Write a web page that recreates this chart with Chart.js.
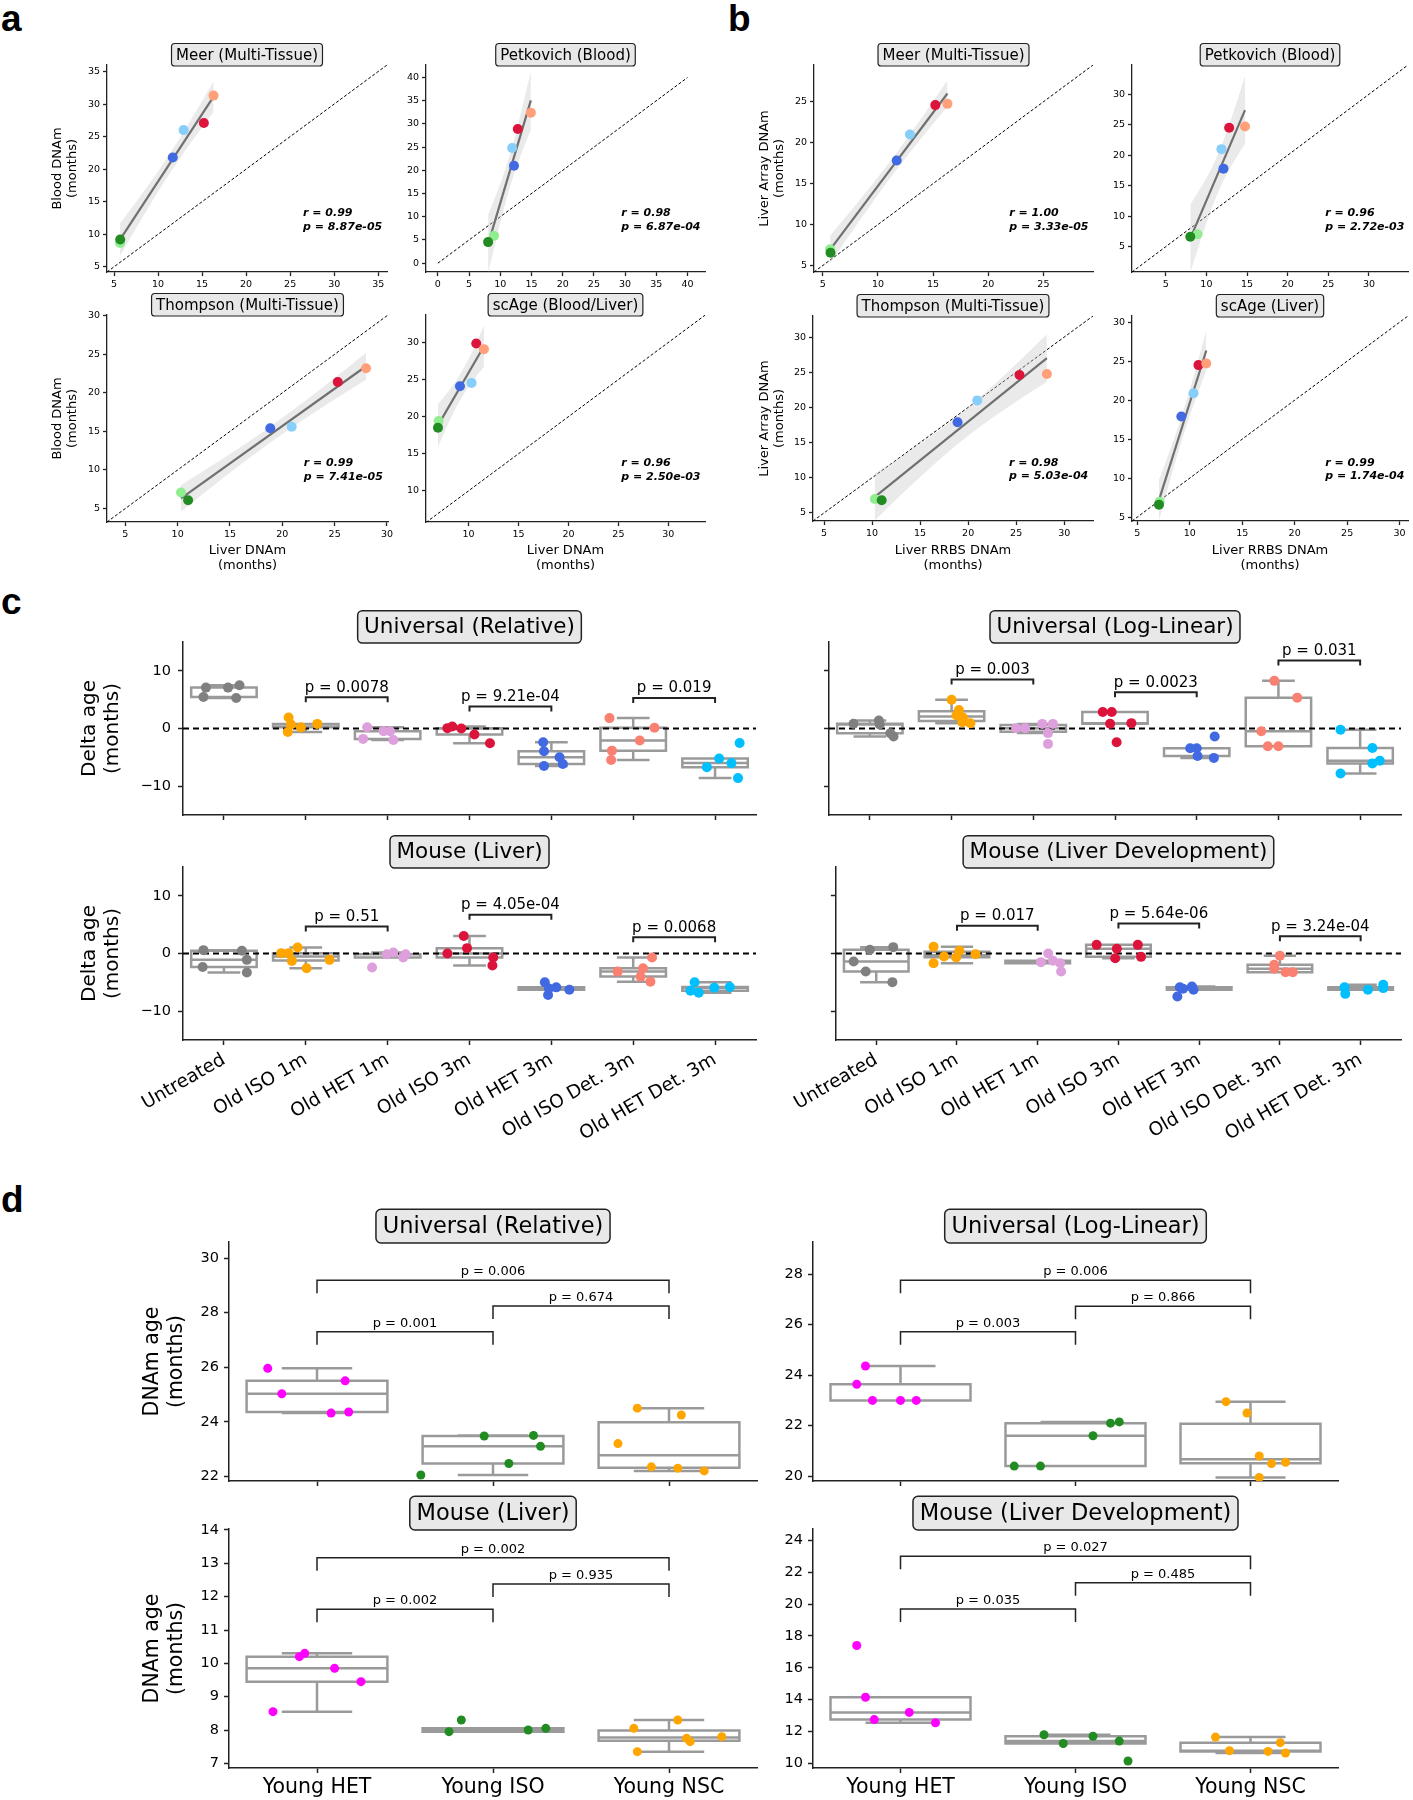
<!DOCTYPE html>
<html>
<head>
<meta charset="utf-8">
<script src="https://cdn.jsdelivr.net/npm/chart.js@4.4.1/dist/chart.umd.min.js"></script>
<style>
html, body { margin: 0; padding: 0; background: #fff; overflow: hidden; }
#fig { position: relative; width: 1413px; height: 1800px; overflow: hidden; }
#fig canvas { position: absolute; }
.lbl { position: absolute; font: bold 37px 'Liberation Sans', Arial, sans-serif; line-height: 1; }
</style>
</head>
<body>
<div id="fig">
  <div class="lbl" style="left:1px;top:0px">a</div>
  <div class="lbl" style="left:728px;top:0px">b</div>
  <div class="lbl" style="left:1px;top:583px">c</div>
  <div class="lbl" style="left:1px;top:1181px">d</div>
</div>
<script>
// ---- a / b : clock estimates per sample (months)
const sampleColors = ['#90ee90', '#228b22', '#4169e1', '#87cefa', '#dc143c', '#ffa07a'];

const aMeerX = [5.68, 5.70, 11.67, 12.90, 15.20, 16.30];
const aMeerY = [8.67, 9.20, 21.80, 26.00, 27.10, 31.30];
const aPetkX = [9.00, 8.05, 12.20, 11.90, 12.80, 14.90];
const aPetkY = [5.90, 4.54, 21.00, 24.80, 28.90, 32.40];
const aThomX = [10.32, 11.00, 18.85, 20.90, 25.30, 28.00];
const aThomY = [7.08, 6.08, 15.40, 15.60, 21.40, 23.20];
const aScX = [7.00, 6.94, 9.14, 10.30, 10.77, 11.54];
const aScY = [19.40, 18.50, 24.10, 24.55, 29.86, 29.10];

const bMeerX = [5.66, 5.70, 11.70, 12.90, 15.20, 16.30];
const bMeerY = [6.97, 6.55, 17.83, 21.00, 24.60, 24.75];
const bPetkX = [8.90, 8.02, 12.10, 11.85, 12.80, 14.75];
const bPetkY = [7.03, 6.64, 17.80, 21.00, 24.50, 24.70];
const bThomX = [10.29, 11.00, 18.90, 20.95, 25.35, 28.20];
const bThomY = [6.97, 6.80, 17.90, 21.00, 24.60, 24.75];
const bScX = [7.13, 7.07, 9.20, 10.36, 10.83, 11.58];
const bScY = [6.97, 6.60, 17.90, 20.90, 24.50, 24.70];

const aStats = [['0.99', '8.87e-05'], ['0.98', '6.87e-04'], ['0.99', '7.41e-05'], ['0.96', '2.50e-03']];
const bStats = [['1.00', '3.33e-05'], ['0.96', '2.72e-03'], ['0.98', '5.03e-04'], ['0.99', '1.74e-04']];

const ticks5to35 = [5, 10, 15, 20, 25, 30, 35];
const ticks0to40 = [0, 5, 10, 15, 20, 25, 30, 35, 40];
const ticks5to30 = [5, 10, 15, 20, 25, 30];
const ticks10to30 = [10, 15, 20, 25, 30];
const ticks5to25 = [5, 10, 15, 20, 25];

// ---- c : delta age per treatment group
const cGroups = ['Untreated', 'Old ISO 1m', 'Old HET 1m', 'Old ISO 3m', 'Old HET 3m', 'Old ISO Det. 3m', 'Old HET Det. 3m'];
const cColors = ['#808080', '#ffa500', '#dda0dd', '#dc143c', '#4169e1', '#fa8072', '#00bfff'];
const cYTicks = [-10, 0, 10];
const cPairs = [[1, 2], [3, 4], [5, 6]];

const cRelVals = [[5.47, 7.09, 7.09, 7.5, 5.29], [1.9, 0.7, -0.6, 0.2, 0.8], [-1.8, 0.23, -0.47, -0.47, -1.98],
  [0.06, 0.35, 0.0, -1.05, -2.56], [-2.38, -3.95, -6.5, -5.0, -6.16], [1.8, -3.84, -5.47, -2.09, 0.12], [-6.7, -5.2, -2.5, -8.6, -6.0]];
const cRelJit = [[-0.25, -0.22, 0.05, 0.19, 0.15], [-0.21, -0.18, -0.22, -0.06, 0.14], [-0.30, -0.25, -0.05, 0.03, 0.07],
  [-0.27, -0.21, -0.10, 0.06, 0.25], [-0.10, -0.09, -0.09, 0.10, 0.14], [-0.29, -0.26, -0.27, 0.08, 0.26], [-0.10, 0.05, 0.30, 0.28, 0.20]];
const cRelP = ['0.0078', '9.21e-04', '0.019'];
const cRelPy = [5.4, 3.8, 5.3];

const cLogVals = [[0.81, 1.4, 0.7, -0.81, -1.4], [5.0, 3.2, 2.3, 1.9, 1.1, 0.9], [0.06, 0.06, 0.8, 0.8, -0.8, -2.67],
  [2.85, 2.85, 0.81, 0.93, -2.38], [-1.4, -3.43, -3.43, -4.77, -5.1], [8.26, 5.35, -0.47, -3.08, -3.08], [-0.23, -3.37, -6.05, -5.58, -7.79]];
const cLogJit = [[-0.20, 0.11, 0.12, 0.25, 0.29], [0.0, 0.09, 0.06, 0.14, 0.13, 0.23], [-0.21, -0.10, 0.11, 0.24, 0.18, 0.18],
  [-0.15, -0.04, -0.06, 0.20, 0.02], [0.22, -0.08, 0.0, 0.01, 0.21], [-0.05, 0.23, -0.21, -0.13, 0.0], [-0.24, 0.15, 0.15, 0.24, -0.24]];
const cLogP = ['0.003', '0.0023', '0.031'];
const cLogPy = [8.5, 6.3, 11.8];

const cLivVals = [[0.58, -2.33, 0.47, -1.1, -3.31], [0.06, 0.06, 1.05, -1.28, -2.56, -1.1], [-2.44, -0.12, 0.17, -0.7, -0.12],
  [0.0, 3.02, 0.93, -0.7, -2.09], [-5.0, -7.2, -5.87, -6.28, -6.05], [-3.14, -2.56, -4.01, -4.88, -0.7], [-5.0, -6.45, -6.8, -5.93, -5.8]];
const cLivJit = [[-0.25, -0.26, 0.22, 0.28, 0.28], [-0.30, -0.21, -0.10, -0.17, 0.01, 0.29], [-0.19, -0.01, 0.07, 0.19, 0.22],
  [-0.27, -0.07, -0.03, 0.29, 0.28], [-0.08, -0.04, 0.06, 0.22, -0.03], [-0.19, 0.12, 0.09, 0.21, 0.23], [-0.25, -0.30, -0.20, -0.01, 0.18]];
const cLivP = ['0.51', '4.05e-04', '0.0068'];
const cLivPy = [4.7, 6.7, 2.8];

const cDevVals = [[-1.39, -3.12, 0.64, 1.1, -4.97], [1.16, -1.68, -0.52, -0.69, 0.46, -0.12], [-1.5, 0.0, -1.27, -1.68, -3.12],
  [1.5, 0.81, -0.81, 1.5, -0.58], [-7.46, -5.84, -5.72, -6.3, -6.1], [-0.4, -1.97, -2.66, -3.24, -3.24], [-5.84, -7.0, -6.3, -5.43, -6.0]];
const cDevJit = [[-0.28, -0.13, -0.08, 0.21, 0.20], [-0.29, -0.29, -0.16, -0.01, 0.03, 0.23], [0.04, 0.13, 0.19, 0.28, 0.29],
  [-0.27, -0.02, -0.04, 0.24, 0.28], [-0.27, -0.24, -0.09, -0.07, -0.20], [0.0, -0.07, -0.07, 0.07, 0.16], [-0.20, -0.19, 0.09, 0.28, 0.28]];
const cDevP = ['0.017', '5.64e-06', '3.24e-04'];
const cDevPy = [4.8, 5.2, 3.0];

// ---- d : DNAm age of young recipients
const dGroups = ['Young HET', 'Young ISO', 'Young NSC'];
const dColors = ['#ff00ff', '#228b22', '#ffa500'];
const dPairs = [[0, 2], [1, 2], [0, 1]];

const dRelVals = [[25.96, 25.03, 24.32, 24.36, 25.5], [22.05, 23.48, 22.47, 23.5, 23.1], [24.5, 24.25, 23.2, 22.35, 22.3, 22.2]];
const dRelJit = [[-0.28, -0.20, 0.08, 0.18, 0.16], [-0.41, -0.05, 0.09, 0.23, 0.27], [-0.18, 0.07, -0.29, -0.10, 0.05, 0.20]];
const dRelP = ['0.006', '0.674', '0.001'];
const dRelPy = [29.19, 28.24, 27.3];
const dRelTicks = [22, 24, 26, 28, 30];

const dLogVals = [[24.36, 23.64, 23.0, 23.0, 23.0], [20.4, 20.4, 21.6, 22.1, 22.15], [22.95, 22.5, 20.8, 20.5, 20.55, 19.95]];
const dLogJit = [[-0.20, -0.25, -0.16, 0.0, 0.09], [-0.35, -0.20, 0.10, 0.20, 0.25], [-0.14, -0.02, 0.05, 0.12, 0.20, 0.05]];
const dLogP = ['0.006', '0.866', '0.003'];
const dLogPy = [27.76, 26.73, 25.72];
const dLogTicks = [20, 22, 24, 26, 28];

const dLivVals = [[10.2, 10.3, 9.85, 9.45, 8.55], [7.95, 8.3, 8.0, 8.05, 6.65], [8.3, 8.05, 7.75, 7.65, 7.35, 7.8]];
const dLivJit = [[-0.10, -0.07, 0.10, 0.25, -0.25], [-0.25, -0.18, 0.20, 0.30, 0.0], [0.05, -0.20, 0.10, 0.12, -0.18, 0.30]];
const dLivP = ['0.002', '0.935', '0.002'];
const dLivPy = [13.17, 12.38, 11.62];
const dLivTicks = [7, 8, 9, 10, 11, 12, 13, 14];

const dDevVals = [[17.4, 14.15, 13.2, 12.75, 12.55], [11.8, 11.25, 11.4, 10.15, 11.7], [11.65, 10.8, 10.75, 11.3, 10.65]];
const dDevJit = [[-0.25, -0.20, 0.05, -0.15, 0.20], [-0.18, -0.07, 0.25, 0.30, 0.10], [-0.20, -0.12, 0.10, 0.17, 0.20]];
const dDevP = ['0.027', '0.485', '0.035'];
const dDevPy = [23.0, 21.33, 19.69];
const dDevTicks = [10, 12, 14, 16, 18, 20, 22, 24];

const FONT = "'DejaVu Sans', sans-serif";
const T95 = 2.776; // t(0.975, df = 4)
Chart.defaults.font.family = FONT;
const fig = document.getElementById('fig');
const fmt = v => (v < 0 ? '\u2212' : '') + Math.abs(v);

function makeCanvas(area, m) {
  const [L, T, R, B] = area.map(Math.round);
  const c = document.createElement('canvas');
  const left = L - m.l, top = T - m.t, w = R - L + m.l + m.r, h = B - T + m.t + m.b;
  c.width = w; c.height = h;
  Object.assign(c.style, {left: left + 'px', top: top + 'px', width: w + 'px', height: h + 'px'});
  fig.appendChild(c);
  return {c, left, top, w, h};
}

function axis(o) {
  let title = {display: false};
  if (o.title) {
    const lh = o.tsize * o.tlh;
    const pad = o.horiz
      ? {top: 0, bottom: o.cv.h - (o.tpos - o.cv.top) - lh * (o.title.length - 1) - lh / 2}
      : {top: (o.tpos - o.cv.left) - lh / 2, bottom: 0};
    title = {display: true, text: o.title, color: '#000', font: {family: FONT, size: o.tsize, lineHeight: o.tlh}, padding: pad};
  }
  return {
    type: 'linear', min: o.min, max: o.max,
    afterBuildTicks: s => { s.ticks = o.ticks.map(v => ({value: v})); },
    afterFit: s => { if (o.horiz) s.height = o.size; else s.width = o.size; },
    ticks: {autoSkip: false, minRotation: o.rot || 0, maxRotation: o.rot || 0, padding: o.pad, color: '#000',
      font: {family: FONT, size: o.fs}, callback: o.cb || fmt},
    grid: {display: true, drawOnChartArea: false, drawTicks: true, tickLength: o.tl, tickWidth: o.bw, tickColor: '#222'},
    border: {display: true, color: '#222', width: o.bw},
    title
  };
}

// boxed subplot title sitting on top of the plot area
const titleBox = {
  id: 'titleBox',
  afterDraw(chart, args, o) {
    const {ctx, chartArea: a} = chart;
    ctx.save();
    ctx.font = o.size + 'px ' + FONT;
    const w = ctx.measureText(o.text).width + 0.6 * o.size, h = 1.5 * o.size;
    const cx = (a.left + a.right) / 2, y = a.top - h + 1;
    ctx.beginPath();
    ctx.roundRect(cx - w / 2, y, w, h, 0.22 * o.size);
    ctx.fillStyle = '#e8e8e8'; ctx.fill();
    ctx.lineWidth = o.lw; ctx.strokeStyle = '#222'; ctx.stroke();
    ctx.fillStyle = '#000'; ctx.textAlign = 'center'; ctx.textBaseline = 'middle';
    ctx.fillText(o.text, cx, y + h / 2 + 1);
    ctx.restore();
  }
};

// r / p annotation
const notes = {
  id: 'notes',
  afterDraw(chart, args, o) {
    const {ctx, chartArea: a} = chart;
    ctx.save();
    ctx.font = 'italic bold ' + o.size + 'px ' + FONT;
    ctx.fillStyle = '#000'; ctx.textAlign = 'left'; ctx.textBaseline = 'middle';
    const x = a.left + 0.70 * (a.right - a.left), hgt = a.bottom - a.top;
    o.lines.forEach((t, i) => ctx.fillText(t, x, a.bottom - (0.283 - 0.066 * i) * hgt));
    ctx.restore();
  }
};

function quant(s, q) {
  const p = (s.length - 1) * q, lo = Math.floor(p), hi = Math.ceil(p);
  return s[lo] + (s[hi] - s[lo]) * (p - lo);
}
function boxStats(vals) {
  const s = vals.slice().sort((a, b) => a - b);
  const q1 = quant(s, 0.25), med = quant(s, 0.5), q3 = quant(s, 0.75), iqr = q3 - q1;
  const lo = Math.min(...s.filter(v => v >= q1 - 1.5 * iqr));
  const hi = Math.max(...s.filter(v => v <= q3 + 1.5 * iqr));
  return {q1, med, q3, lo, hi};
}

const boxPlugin = {
  id: 'boxes',
  beforeDatasetsDraw(chart, args, o) {
    const {ctx, scales: {x, y}} = chart;
    ctx.save();
    ctx.strokeStyle = o.color; ctx.lineWidth = o.lw;
    o.groups.forEach((vals, i) => {
      const b = boxStats(vals);
      const x0 = x.getPixelForValue(i - 0.4), x1 = x.getPixelForValue(i + 0.4), xc = x.getPixelForValue(i);
      const c0 = x.getPixelForValue(i - 0.2), c1 = x.getPixelForValue(i + 0.2);
      const yq1 = y.getPixelForValue(b.q1), yq3 = y.getPixelForValue(b.q3);
      ctx.beginPath();
      ctx.rect(x0, yq3, x1 - x0, yq1 - yq3);
      ctx.moveTo(x0, y.getPixelForValue(b.med)); ctx.lineTo(x1, y.getPixelForValue(b.med));
      ctx.moveTo(xc, yq3); ctx.lineTo(xc, y.getPixelForValue(b.hi));
      ctx.moveTo(xc, yq1); ctx.lineTo(xc, y.getPixelForValue(b.lo));
      ctx.moveTo(c0, y.getPixelForValue(b.hi)); ctx.lineTo(c1, y.getPixelForValue(b.hi));
      ctx.moveTo(c0, y.getPixelForValue(b.lo)); ctx.lineTo(c1, y.getPixelForValue(b.lo));
      ctx.stroke();
    });
    ctx.restore();
  }
};

const bracketPlugin = {
  id: 'brackets',
  afterDatasetsDraw(chart, args, o) {
    const {ctx, scales: {x, y}} = chart;
    ctx.save();
    ctx.strokeStyle = '#222'; ctx.lineWidth = o.lw; ctx.fillStyle = '#000';
    ctx.font = o.size + 'px ' + FONT; ctx.textAlign = 'center'; ctx.textBaseline = 'bottom';
    o.pairs.forEach((pr, k) => {
      const xa = x.getPixelForValue(pr[0]), xb = x.getPixelForValue(pr[1]), yy = y.getPixelForValue(o.ys[k]);
      ctx.beginPath();
      ctx.moveTo(xa, yy + o.leg); ctx.lineTo(xa, yy); ctx.lineTo(xb, yy); ctx.lineTo(xb, yy + o.leg);
      ctx.stroke();
      ctx.fillText('p = ' + o.labels[k], (xa + xb) / 2, yy - 2);
    });
    ctx.restore();
  }
};

function regress(xs, ys) {
  const n = xs.length;
  const mx = xs.reduce((a, b) => a + b, 0) / n, my = ys.reduce((a, b) => a + b, 0) / n;
  let sxx = 0, sxy = 0, sse = 0;
  xs.forEach((v, i) => { sxx += (v - mx) ** 2; sxy += (v - mx) * (ys[i] - my); });
  const k = sxy / sxx, b0 = my - k * mx;
  xs.forEach((v, i) => { sse += (ys[i] - b0 - k * v) ** 2; });
  const s = Math.sqrt(sse / (n - 2));
  return {at: v => b0 + k * v, ci: v => T95 * s * Math.sqrt(1 / n + (v - mx) ** 2 / sxx)};
}

function scatterPanel(p) {
  const m = {l: 100, t: 30, r: p.area[2] > 1400 ? 1 : 10, b: p.xTitle ? 62 : 24};
  const cv = makeCanvas(p.area, m);
  const f = regress(p.xs, p.ys);
  const x0 = Math.min(...p.xs), x1 = Math.max(...p.xs);
  const steps = [...Array(31).keys()].map(i => x0 + (x1 - x0) * i / 30);
  const datasets = [
    {type: 'scatter', data: p.xs.map((v, i) => ({x: v, y: p.ys[i]})), pointBackgroundColor: sampleColors,
      pointBorderWidth: 0, pointRadius: 5},
    {type: 'line', data: [{x: x0, y: f.at(x0)}, {x: x1, y: f.at(x1)}], borderColor: '#707070', borderWidth: 2.2, pointRadius: 0, fill: false},
    {type: 'line', data: steps.map(v => ({x: v, y: f.at(v) + f.ci(v)})), borderWidth: 0, pointRadius: 0,
      fill: '+1', backgroundColor: 'rgba(200,200,200,0.38)'},
    {type: 'line', data: steps.map(v => ({x: v, y: f.at(v) - f.ci(v)})), borderWidth: 0, pointRadius: 0, fill: false},
    {type: 'line', data: [{x: p.id[0], y: p.id[0]}, {x: p.id[1], y: p.id[1]}], borderColor: '#000', borderWidth: 1,
      borderDash: [3, 2], pointRadius: 0, fill: false}
  ];
  new Chart(cv.c, {
    type: 'scatter',
    data: {datasets},
    options: {
      responsive: false, animation: false, events: [],
      layout: {padding: {left: 0, top: m.t, right: m.r, bottom: 0}},
      plugins: {
        legend: {display: false}, tooltip: {enabled: false},
        titleBox: {text: p.title, size: 15, lw: 1.2},
        notes: {lines: ['r = ' + p.st[0], 'p = ' + p.st[1]], size: 11}
      },
      scales: {
        x: axis({horiz: true, min: p.lim[0], max: p.lim[1], ticks: p.xt, size: m.b, pad: 3, fs: 9.5, tl: 4, bw: 1.3,
          title: p.xTitle, tpos: 551, tsize: 13, tlh: 1.13, cv}),
        y: axis({horiz: false, min: p.lim[2], max: p.lim[3], ticks: p.yt, size: m.l, pad: 3, fs: 9.5, tl: 4, bw: 1.3,
          title: p.yTitle, tpos: p.yTitlePos, tsize: 13, tlh: 1.13, cv})
      }
    },
    plugins: [titleBox, notes]
  });
}

function boxPanel(p, S) {
  const cv = makeCanvas(p.area, p.m);
  const pts = [], cols = [];
  p.vals.forEach((g, i) => g.forEach((v, j) => { pts.push({x: i + p.jit[i][j], y: v}); cols.push(p.colors[i]); }));
  const n = p.cats.length;
  const datasets = [{type: 'scatter', data: pts, pointBackgroundColor: cols, pointBorderWidth: 0, pointRadius: S.ptR}];
  if (S.zero) {
    datasets.push({type: 'line', data: [{x: -0.5, y: 0}, {x: n - 0.5, y: 0}], borderColor: '#000', borderWidth: 1.8,
      borderDash: [6, 4], pointRadius: 0, fill: false});
  }
  new Chart(cv.c, {
    type: 'scatter',
    data: {datasets},
    options: {
      responsive: false, animation: false, events: [],
      layout: {padding: {left: 0, top: p.m.t, right: p.m.r, bottom: 0}},
      plugins: {
        legend: {display: false}, tooltip: {enabled: false},
        titleBox: {text: p.title, size: S.fsTitle, lw: 1.5},
        boxes: {groups: p.vals, color: '#9a9a9a', lw: S.boxLw},
        brackets: {pairs: p.pairs, ys: p.py, labels: p.pl, leg: S.leg, size: S.fsP, lw: S.lw}
      },
      scales: {
        x: axis({horiz: true, min: -0.5, max: n - 0.5, ticks: p.cats.map((c, i) => i), size: p.m.b, rot: S.rot,
          pad: S.padX, fs: S.fsX, tl: S.tl, bw: S.bw, cb: v => (p.showX ? p.cats[v] : '')}),
        y: axis({horiz: false, min: p.lim[0], max: p.lim[1], ticks: p.yt, size: p.m.l, pad: S.padY, fs: S.fsY,
          tl: S.tl, bw: S.bw, cb: p.showY ? fmt : () => '',
          title: p.yTitle, tpos: p.yTitlePos, tsize: S.yTitleSize, tlh: 1.15, cv})
      }
    },
    plugins: [boxPlugin, bracketPlugin, titleBox]
  });
}

// ---- panel a
scatterPanel({area: [107, 65, 387, 272], xs: aMeerX, ys: aMeerY, lim: [4.2, 36, 4.2, 36], id: [4.2, 36],
  xt: ticks5to35, yt: ticks5to35, title: 'Meer (Multi-Tissue)', st: aStats[0],
  yTitle: ['Blood DNAm', '(months)'], yTitlePos: 58});
scatterPanel({area: [426, 65, 705, 272], xs: aPetkX, ys: aPetkY, lim: [-1.9, 42.8, -1.9, 42.7], id: [0, 40],
  xt: ticks0to40, yt: ticks0to40, title: 'Petkovich (Blood)', st: aStats[1]});
scatterPanel({area: [107, 315, 388, 522], xs: aThomX, ys: aThomY, lim: [3.25, 30.1, 3.25, 30.1], id: [3.25, 30.1],
  xt: ticks5to30, yt: ticks5to30, title: 'Thompson (Multi-Tissue)', st: aStats[2],
  xTitle: ['Liver DNAm', '(months)'], yTitle: ['Blood DNAm', '(months)'], yTitlePos: 58});
scatterPanel({area: [426, 315, 705, 522], xs: aScX, ys: aScY, lim: [5.74, 33.67, 5.8, 33.7], id: [5.74, 33.7],
  xt: ticks10to30, yt: ticks10to30, title: 'scAge (Blood/Liver)', st: aStats[3], xTitle: ['Liver DNAm', '(months)']});

// ---- panel b
scatterPanel({area: [814, 65, 1093, 272], xs: bMeerX, ys: bMeerY, lim: [4.2, 29.5, 4.2, 29.5], id: [4.2, 29.5],
  xt: ticks5to25, yt: ticks5to25, title: 'Meer (Multi-Tissue)', st: bStats[0],
  yTitle: ['Liver Array DNAm', '(months)'], yTitlePos: 765});
scatterPanel({area: [1132, 65, 1412, 272], xs: bPetkX, ys: bPetkY, lim: [0.85, 34.8, 0.85, 34.8], id: [0.85, 34.8],
  xt: ticks5to30, yt: ticks5to30, title: 'Petkovich (Blood)', st: bStats[1]});
scatterPanel({area: [813, 316, 1093, 521], xs: bThomX, ys: bThomY, lim: [3.85, 33, 3.85, 33], id: [3.85, 33],
  xt: ticks5to30, yt: ticks5to30, title: 'Thompson (Multi-Tissue)', st: bStats[2],
  xTitle: ['Liver RRBS DNAm', '(months)'], yTitle: ['Liver Array DNAm', '(months)'], yTitlePos: 765});
scatterPanel({area: [1132, 316, 1412, 521], xs: bScX, ys: bScY, lim: [4.5, 30.8, 4.5, 30.8], id: [4.5, 30.8],
  xt: ticks5to30, yt: ticks5to30, title: 'scAge (Liver)', st: bStats[3], xTitle: ['Liver RRBS DNAm', '(months)']});

// ---- panel c
const cStyle = {ptR: 5, fsY: 14.5, fsX: 18.5, rot: 30, tl: 5, padX: 4, padY: 7, bw: 1.5, fsTitle: 21.5, fsP: 15,
  leg: 5, lw: 2, boxLw: 2.5, zero: true, yTitleSize: 20};
const cBase = {cats: cGroups, colors: cColors, yt: cYTicks, pairs: cPairs, lim: [-15, 15]};
boxPanel(Object.assign({}, cBase, {area: [183, 641.5, 755.5, 815], m: {l: 183, t: 40, r: 12, b: 20},
  vals: cRelVals, jit: cRelJit, py: cRelPy, pl: cRelP, title: 'Universal (Relative)', showX: false, showY: true,
  yTitle: ['Delta age', '(months)'], yTitlePos: 90}), cStyle);
boxPanel(Object.assign({}, cBase, {area: [829, 641.5, 1401, 815], m: {l: 40, t: 40, r: 12, b: 20},
  vals: cLogVals, jit: cLogJit, py: cLogPy, pl: cLogP, title: 'Universal (Log-Linear)', showX: false, showY: false}), cStyle);
boxPanel(Object.assign({}, cBase, {area: [183, 867, 755.5, 1040], m: {l: 183, t: 40, r: 12, b: 110},
  vals: cLivVals, jit: cLivJit, py: cLivPy, pl: cLivP, title: 'Mouse (Liver)', showX: true, showY: true,
  yTitle: ['Delta age', '(months)'], yTitlePos: 90}), cStyle);
boxPanel(Object.assign({}, cBase, {area: [829, 867, 1401, 1040], m: {l: 40, t: 40, r: 12, b: 110},
  vals: cDevVals, jit: cDevJit, py: cDevPy, pl: cDevP, title: 'Mouse (Liver Development)', showX: true, showY: false}), cStyle);

// ---- panel d
const dStyle = {ptR: 4.5, fsY: 14.5, fsX: 20.5, rot: 0, tl: 5, padX: 2, padY: 5, bw: 1.5, fsTitle: 22.5, fsP: 13,
  leg: 13, lw: 1.5, boxLw: 2.5, zero: false, yTitleSize: 20.5};
const dBase = {cats: dGroups, colors: dColors, pairs: dPairs, showY: true};
boxPanel(Object.assign({}, dBase, {area: [229, 1242, 757, 1481], m: {l: 229, t: 40, r: 20, b: 20},
  vals: dRelVals, jit: dRelJit, py: dRelPy, pl: dRelP, lim: [21.83, 30.59], yt: dRelTicks,
  title: 'Universal (Relative)', showX: false, yTitle: ['DNAm age', '(months)'], yTitlePos: 153}), dStyle);
boxPanel(Object.assign({}, dBase, {area: [813, 1242, 1338, 1481], m: {l: 60, t: 40, r: 20, b: 20},
  vals: dLogVals, jit: dLogJit, py: dLogPy, pl: dLogP, lim: [19.81, 29.27], yt: dLogTicks,
  title: 'Universal (Log-Linear)', showX: false}), dStyle);
boxPanel(Object.assign({}, dBase, {area: [229, 1529, 757, 1768], m: {l: 229, t: 40, r: 20, b: 32},
  vals: dLivVals, jit: dLivJit, py: dLivPy, pl: dLivP, lim: [6.86, 14.03], yt: dLivTicks,
  title: 'Mouse (Liver)', showX: true, yTitle: ['DNAm age', '(months)'], yTitlePos: 153}), dStyle);
boxPanel(Object.assign({}, dBase, {area: [813, 1529, 1338, 1768], m: {l: 60, t: 40, r: 20, b: 32},
  vals: dDevVals, jit: dDevJit, py: dDevPy, pl: dDevP, lim: [9.71, 24.71], yt: dDevTicks,
  title: 'Mouse (Liver Development)', showX: true}), dStyle);
</script>
</body>
</html>
